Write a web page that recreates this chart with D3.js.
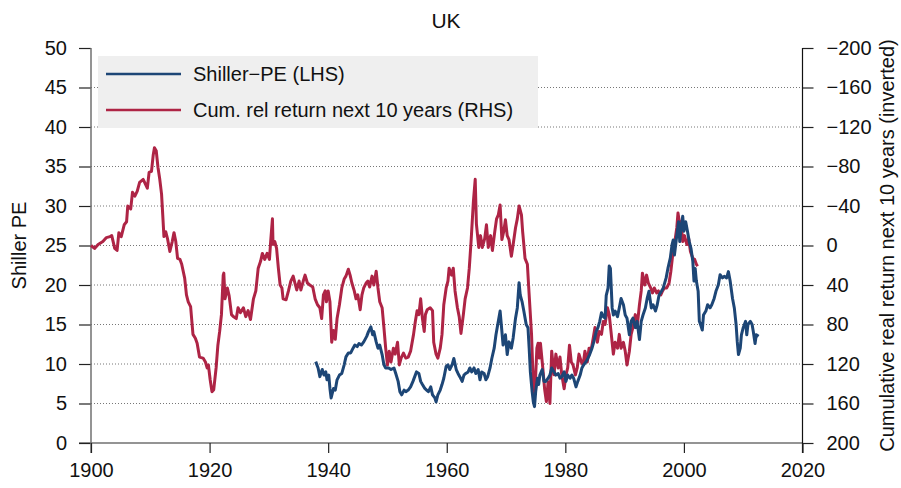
<!DOCTYPE html>
<html>
<head>
<meta charset="utf-8">
<script src="https://cdn.jsdelivr.net/npm/d3@7"></script>
<style>
  body { margin: 0; background: #fff; }
  svg text { font-family: "Liberation Sans", Arial, Helvetica, sans-serif; fill: #111; }
</style>
</head>
<body>
<div id="chart"></div>
<script>
// shiller PE (left axis)
const peYears = [1937.9, 1938.3, 1938.6, 1939.0, 1939.3, 1939.6, 1939.8, 1940.1, 1940.3, 1940.5, 1940.9, 1941.2, 1941.5, 1941.9,
  1942.3, 1942.7, 1943.0, 1943.4, 1943.8, 1944.2, 1944.5, 1944.9, 1945.2, 1945.6, 1946.0, 1946.5, 1946.8, 1947.2, 1947.5, 1947.7,
  1948.1, 1948.4, 1948.7, 1949.1, 1949.4, 1949.7, 1950.2, 1950.6, 1951.1, 1951.4, 1951.8, 1952.1, 1952.4, 1952.8, 1953.1, 1953.5,
  1953.9, 1954.3, 1954.6, 1954.9, 1955.3, 1955.6, 1955.9, 1956.3, 1956.6, 1956.9, 1957.3, 1957.6, 1958.0, 1958.2, 1958.5, 1958.9,
  1959.2, 1959.5, 1959.9, 1960.2, 1960.5, 1960.9, 1961.2, 1961.6, 1961.9, 1962.2, 1962.6, 1962.9, 1963.2, 1963.6, 1963.9, 1964.2,
  1964.6, 1964.9, 1965.3, 1965.6, 1965.9, 1966.3, 1966.6, 1966.9, 1967.3, 1967.6, 1968.0, 1968.3, 1968.6, 1969.0, 1969.2, 1969.5,
  1969.9, 1970.2, 1970.5, 1970.9, 1971.2, 1971.6, 1971.9, 1972.2, 1972.4, 1972.7, 1973.0, 1973.4, 1973.7, 1973.9, 1974.1, 1974.4,
  1974.6, 1974.8, 1975.0, 1975.3, 1975.5, 1975.7, 1976.1, 1976.4, 1976.7, 1977.1, 1977.4, 1977.7, 1978.1, 1978.4, 1978.8, 1979.1,
  1979.4, 1979.8, 1980.1, 1980.4, 1980.8, 1981.1, 1981.4, 1981.8, 1982.1, 1982.5, 1982.8, 1983.1, 1983.5, 1983.8, 1984.1, 1984.5,
  1984.8, 1985.2, 1985.5, 1985.8, 1986.1, 1986.4, 1986.7, 1986.9, 1987.2, 1987.4, 1987.6, 1987.9, 1988.1, 1988.4, 1988.8, 1989.1,
  1989.4, 1989.8, 1990.1, 1990.4, 1990.8, 1991.1, 1991.4, 1991.8, 1992.1, 1992.5, 1992.8, 1993.1, 1993.5, 1993.8, 1994.1, 1994.5,
  1994.8, 1995.2, 1995.5, 1995.8, 1996.2, 1996.5, 1997.0, 1997.3, 1997.7, 1998.0, 1998.2, 1998.4, 1998.8, 1999.1, 1999.3, 1999.5,
  1999.8, 2000.0, 2000.3, 2000.6, 2000.9, 2001.2, 2001.5, 2001.7, 2001.9, 2002.1, 2002.4, 2002.6, 2002.8, 2003.1, 2003.3, 2003.7,
  2004.0, 2004.4, 2004.7, 2005.1, 2005.4, 2005.8, 2006.1, 2006.5, 2006.8, 2007.2, 2007.5, 2007.8, 2008.2, 2008.5, 2008.8, 2009.0,
  2009.2, 2009.5, 2009.7, 2010.0, 2010.4, 2010.6, 2010.8, 2011.2, 2011.5, 2011.7, 2012.0, 2012.2, 2012.6]
const peValues = [10.3, 9.5, 8.4, 9.3, 8.6, 9.0, 8.0, 8.6, 6.9, 5.7, 6.9, 6.7, 8.0, 8.6,
  8.8, 9.9, 10.9, 11.4, 11.4, 12.0, 12.4, 12.2, 12.6, 12.4, 12.8, 13.5, 14.1, 14.7, 13.7, 14.1,
  12.8, 12.0, 12.4, 11.2, 9.9, 9.5, 9.5, 9.3, 9.5, 8.8, 7.8, 6.5, 6.1, 6.7, 6.5, 6.7,
  7.1, 7.8, 8.4, 9.0, 8.8, 7.8, 7.4, 6.9, 6.7, 6.5, 7.1, 6.1, 5.7, 5.2, 6.1, 6.7,
  7.4, 8.2, 9.7, 9.9, 9.3, 9.9, 10.7, 9.3, 8.8, 8.4, 7.8, 8.6, 8.8, 9.0, 9.5, 9.0,
  9.5, 8.8, 9.3, 8.0, 9.0, 8.8, 8.0, 8.4, 9.5, 10.7, 12.0, 13.7, 15.0, 16.7, 15.0, 12.4,
  13.7, 11.2, 12.8, 12.0, 13.3, 15.8, 17.1, 20.3, 18.7, 17.9, 16.7, 15.0, 14.6, 12.0, 9.0, 6.5,
  5.2, 4.6, 6.5, 8.2, 7.4, 8.6, 9.3, 7.8, 7.8, 8.2, 8.6, 9.5, 9.0, 8.6, 8.8, 8.2,
  8.4, 9.0, 7.8, 8.6, 8.2, 8.6, 8.2, 7.1, 7.8, 8.6, 9.5, 9.9, 10.3, 10.7, 11.2, 12.0,
  12.8, 14.1, 14.6, 15.4, 16.5, 16.0, 15.8, 18.7, 19.6, 22.4, 22.1, 17.1, 16.2, 16.7, 16.0, 17.1,
  18.3, 17.5, 16.2, 15.8, 13.7, 15.4, 15.8, 14.6, 15.4, 13.1, 15.4, 16.2, 17.1, 18.3, 19.2, 17.1,
  17.5, 16.7, 17.5, 18.7, 19.2, 19.6, 20.9, 22.1, 23.4, 25.1, 25.7, 23.8, 26.3, 28.0, 25.5, 27.2,
  28.7, 26.8, 28.0, 26.8, 25.5, 24.6, 23.0, 20.5, 22.1, 20.5, 19.2, 15.4, 15.0, 14.3, 16.2, 16.7,
  17.5, 17.1, 17.5, 18.3, 19.2, 20.0, 21.3, 20.9, 21.1, 20.9, 21.7, 20.5, 18.3, 17.1, 15.0, 12.8,
  11.2, 12.0, 13.7, 14.6, 15.4, 13.7, 15.0, 15.4, 15.0, 14.1, 12.6, 13.7, 13.5]

// cumulative real return next 10 years (right axis, inverted)
const retYears = [1900.0, 1900.6, 1901.2, 1902.0, 1902.6, 1903.2, 1903.5, 1904.0, 1904.4, 1904.7, 1905.1, 1905.6, 1906.0, 1906.2,
  1906.7, 1907.0, 1907.4, 1907.8, 1908.2, 1908.8, 1909.2, 1909.5, 1909.8, 1910.2, 1910.5, 1910.7, 1911.0, 1911.3, 1911.6, 1911.9,
  1912.1, 1912.3, 1912.6, 1912.9, 1913.3, 1913.7, 1914.0, 1914.3, 1914.6, 1915.0, 1915.3, 1915.8, 1916.1, 1916.4, 1916.8, 1917.2,
  1917.6, 1917.9, 1918.3, 1918.9, 1919.3, 1919.6, 1919.8, 1920.1, 1920.4, 1920.7, 1921.1, 1921.4, 1921.7, 1922.0, 1922.3, 1922.4,
  1922.6, 1923.0, 1923.3, 1923.7, 1924.0, 1924.5, 1924.8, 1925.2, 1925.7, 1926.1, 1926.5, 1926.9, 1927.4, 1927.8, 1928.2, 1928.6,
  1928.9, 1929.3, 1929.7, 1930.1, 1930.3, 1930.6, 1930.7, 1931.0, 1931.3, 1931.6, 1931.9, 1932.2, 1932.4, 1932.9, 1933.3, 1933.7,
  1934.1, 1934.4, 1934.7, 1935.1, 1935.4, 1935.8, 1936.1, 1936.5, 1936.9, 1937.4, 1937.8, 1938.2, 1938.6, 1938.9, 1939.2, 1939.5,
  1939.7, 1940.0, 1940.3, 1940.6, 1940.9, 1941.2, 1941.5, 1941.9, 1942.3, 1942.7, 1943.0, 1943.4, 1943.7, 1944.0, 1944.4, 1944.7,
  1945.0, 1945.4, 1945.7, 1946.0, 1946.4, 1946.7, 1947.0, 1947.4, 1947.7, 1948.1, 1948.4, 1948.7, 1949.1, 1949.4, 1949.7, 1950.0,
  1950.3, 1950.6, 1951.0, 1951.3, 1951.7, 1952.0, 1952.3, 1952.7, 1953.1, 1953.5, 1953.9, 1954.4, 1954.7, 1955.0, 1955.3, 1955.6,
  1955.9, 1956.2, 1956.4, 1956.7, 1957.2, 1957.6, 1957.8, 1958.2, 1958.5, 1958.9, 1959.2, 1959.5, 1959.9, 1960.2, 1960.4, 1960.8,
  1961.1, 1961.4, 1961.8, 1962.1, 1962.4, 1962.8, 1963.1, 1963.5, 1963.8, 1964.1, 1964.5, 1964.8, 1965.0, 1965.4, 1965.7, 1966.0,
  1966.4, 1966.7, 1967.0, 1967.4, 1967.7, 1968.1, 1968.4, 1968.7, 1969.0, 1969.3, 1969.6, 1969.9, 1970.2, 1970.5, 1970.9, 1971.2,
  1971.6, 1971.9, 1972.2, 1972.6, 1972.8, 1973.0, 1973.2, 1973.6, 1973.8, 1974.0, 1974.3, 1974.5, 1974.7, 1974.9, 1975.2, 1975.4,
  1975.6, 1975.8, 1976.2, 1976.5, 1976.8, 1977.1, 1977.4, 1977.7, 1978.1, 1978.4, 1978.8, 1979.1, 1979.4, 1979.8, 1980.1, 1980.4,
  1980.7, 1981.0, 1981.3, 1981.7, 1982.0, 1982.3, 1982.7, 1983.0, 1983.3, 1983.7, 1984.0, 1984.4, 1984.7, 1985.0, 1985.4, 1985.7,
  1986.1, 1986.4, 1986.7, 1987.1, 1987.4, 1987.7, 1988.1, 1988.4, 1988.8, 1989.1, 1989.4, 1989.8, 1990.1, 1990.4, 1990.8, 1991.1,
  1991.4, 1991.8, 1992.1, 1992.5, 1992.8, 1993.0, 1993.4, 1993.7, 1994.0, 1994.4, 1994.7, 1995.0, 1995.4, 1995.7, 1996.1, 1996.4,
  1996.7, 1997.1, 1997.5, 1997.8, 1998.1, 1998.4, 1998.8, 1999.0, 1999.3, 1999.5, 1999.8, 2000.1, 2000.5, 2000.8, 2001.1, 2001.5,
  2001.8, 2002.1, 2002.3]
const retValues = [0, 3, -1, -4, -8, -9, -10, 3, 5, -13, -9, -21, -24, -40,
  -37, -54, -50, -55, -64, -67, -62, -58, -74, -75, -92, -99, -96, -79, -67, -52,
  -31, -9, -14, -7, 6, -4, -13, -4, 13, 14, 19, 33, 50, 57, 62, 90,
  94, 99, 113, 114, 118, 124, 121, 136, 148, 146, 124, 101, 87, 70, 30, 28,
  54, 43, 51, 70, 72, 74, 63, 68, 63, 72, 66, 75, 54, 46, 23, 16,
  8, 14, 8, 14, -4, -27, -1, -4, 3, 23, 40, 43, 54, 55, 46, 36,
  31, 38, 45, 36, 45, 36, 30, 38, 40, 42, 54, 60, 63, 74, 50, 46,
  57, 46, 57, 98, 86, 95, 74, 60, 43, 34, 31, 24, 30, 38, 46, 54,
  50, 65, 50, 43, 38, 36, 42, 31, 40, 26, 43, 57, 63, 83, 104, 121,
  107, 118, 104, 110, 98, 121, 114, 109, 114, 113, 107, 90, 77, 66, 70, 54,
  74, 87, 70, 65, 63, 66, 98, 110, 114, 104, 90, 60, 43, 36, 23, 30,
  23, 46, 63, 72, 89, 70, 54, 43, 23, -4, -45, -67, -22, 2, -10, 2,
  -7, -21, 2, -10, 5, -14, -27, -31, -41, -6, -14, -26, -10, -6, 11, -1,
  -18, -27, -40, -31, -14, -1, 13, 19, 40, 60, 90, 124, 158, 145, 104, 99,
  114, 99, 124, 145, 158, 138, 160, 107, 131, 110, 124, 113, 131, 145, 131, 124,
  101, 118, 121, 131, 124, 110, 118, 121, 107, 118, 104, 104, 94, 83, 98, 87,
  90, 77, 80, 63, 70, 87, 110, 98, 104, 90, 104, 98, 107, 121, 107, 90,
  83, 70, 83, 60, 46, 28, 40, 30, 38, 43, 48, 43, 48, 46, 50, 46,
  43, 43, 38, 26, 10, -1, -18, -33, -21, -24, -4, -10, -1, -7, 6, 13,
  14, 19, 21]

const leftTicks = [0, 5, 10, 15, 20, 25, 30, 35, 40, 45, 50]
const rightTicks = [-200, -160, -120, -80, -40, 0, 40, 80, 120, 160, 200]
const yearTicks = [1900, 1920, 1940, 1960, 1980, 2000, 2020]
const legendLabels = ["Shiller\u2212PE (LHS)", "Cum. rel return next 10 years (RHS)"]

const blue = "#1d4676", red = "#ae2445"

let width = 901, height = 488
let plot = { left: 91, right: 802.5, top: 48, bottom: 443 }

let svg = d3.select("#chart").append("svg")
    .attr("width", width)
    .attr("height", height)

// scales
let x = d3.scaleLinear().domain([1900, 2020]).range([plot.left, plot.right])
let yL = d3.scaleLinear().domain([0, 50]).range([plot.bottom, plot.top])
let yR = d3.scaleLinear().domain([-200, 200]).range([plot.top, plot.bottom])

// dotted grid
svg.append("g").selectAll("line")
    .data(leftTicks.filter(d => d > 0 && d < 50))
    .enter().append("line")
    .attr("x1", plot.left).attr("x2", plot.right)
    .attr("y1", d => yL(d)).attr("y2", d => yL(d))
    .attr("stroke", "#777")
    .attr("stroke-width", 1)
    .attr("stroke-dasharray", "1,2")

// zero line along the bottom
svg.append("line")
    .attr("x1", plot.left - 12).attr("x2", plot.right)
    .attr("y1", plot.bottom).attr("y2", plot.bottom)
    .attr("stroke", "#707070").attr("stroke-width", 1.5)

// left axis
let leftAxis = svg.append("g")
    .attr("transform", "translate(" + plot.left + ",0)")
    .call(d3.axisLeft(yL).tickValues(leftTicks).tickSize(12).tickPadding(12))
leftAxis.select(".domain").remove()
leftAxis.append("line")
    .attr("x1", 0).attr("x2", 0)
    .attr("y1", plot.top).attr("y2", plot.bottom + 10)
    .attr("stroke", "#707070").attr("stroke-width", 1.5)

// right axis
let rightAxis = svg.append("g")
    .attr("transform", "translate(" + plot.right + ",0)")
    .call(d3.axisRight(yR).tickValues(rightTicks).tickSize(11).tickPadding(13)
        .tickFormat(d => d < 0 ? "\u2212" + Math.abs(d) : d))
rightAxis.select(".domain").remove()
rightAxis.append("line")
    .attr("x1", 0).attr("x2", 0)
    .attr("y1", plot.top).attr("y2", plot.bottom + 10)
    .attr("stroke", "#111").attr("stroke-width", 1.2)

// bottom axis
let bottomAxis = svg.append("g")
    .attr("transform", "translate(0," + plot.bottom + ")")
    .call(d3.axisBottom(x).tickValues(yearTicks).tickSize(10).tickPadding(14).tickFormat(d3.format("d")))
bottomAxis.select(".domain").remove()

for (let ax of [leftAxis, rightAxis, bottomAxis]) {
    ax.selectAll(".tick line").attr("stroke", "#222").attr("stroke-width", 1.2)
    ax.selectAll(".tick text").attr("font-size", 20).attr("fill", "#111")
        .attr("font-family", "'Liberation Sans', Arial, sans-serif")
}
bottomAxis.selectAll(".tick text").attr("dy", "0.5em")

// lines
let retLine = d3.line().x((d, i) => x(retYears[i])).y(d => yR(d))
let peLine = d3.line().x((d, i) => x(peYears[i])).y(d => yL(d))

svg.append("path")
    .datum(retValues)
    .attr("d", retLine)
    .attr("fill", "none")
    .attr("stroke", red)
    .attr("stroke-width", 3)
    .attr("stroke-linejoin", "round")

svg.append("path")
    .datum(peValues)
    .attr("d", peLine)
    .attr("fill", "none")
    .attr("stroke", blue)
    .attr("stroke-width", 3)
    .attr("stroke-linejoin", "round")

// legend
let legend = svg.append("g")
legend.append("rect")
    .attr("x", 98).attr("y", 56)
    .attr("width", 440).attr("height", 72)
    .attr("fill", "#efefef")
legendLabels.forEach((label, i) => {
    legend.append("line")
        .attr("x1", 106).attr("x2", 181)
        .attr("y1", 74 + i * 36).attr("y2", 74 + i * 36)
        .attr("stroke", i == 0 ? blue : red)
        .attr("stroke-width", 2.4)
    legend.append("text")
        .text(label)
        .attr("x", 193).attr("y", 81 + i * 36)
        .attr("font-size", 20)
})

// titles
svg.append("text")
    .text("UK")
    .attr("x", 446).attr("y", 28)
    .attr("text-anchor", "middle")
    .attr("font-size", 21)

svg.append("text")
    .text("Shiller PE")
    .attr("transform", "translate(26," + (plot.top + plot.bottom) / 2 + ") rotate(-90)")
    .attr("text-anchor", "middle")
    .attr("font-size", 20)

svg.append("text")
    .text("Cumulative real return next 10 years (inverted)")
    .attr("transform", "translate(894," + (plot.top + plot.bottom) / 2 + ") rotate(-90)")
    .attr("text-anchor", "middle")
    .attr("font-size", 20)
</script>
</body>
</html>
